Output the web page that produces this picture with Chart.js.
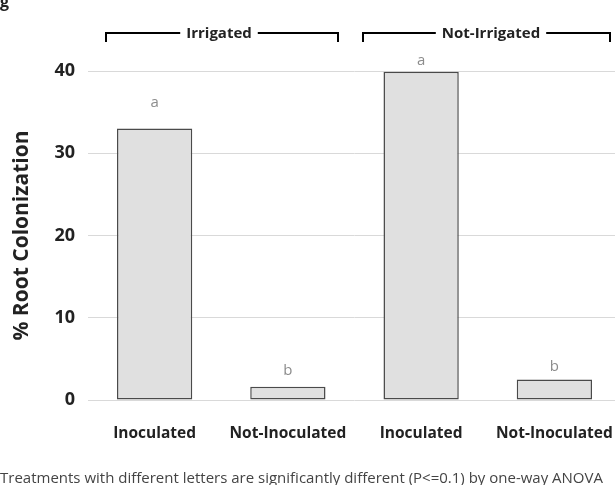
<!DOCTYPE html>
<html>
<head>
<meta charset="utf-8">
<script src="https://cdn.jsdelivr.net/npm/chart.js@4/dist/chart.umd.min.js"></script>
<style>
  html, body { margin: 0; padding: 0; background: #fff; overflow: hidden; }
  #wrap { width: 615px; height: 485px; overflow: hidden; }
</style>
</head>
<body>
<div id="wrap"><canvas id="barChart" width="621" height="485"></canvas></div>
<script>
var categories = ['Inoculated', 'Not-Inoculated', 'Inoculated', 'Not-Inoculated'];
var colonization = [33, 1.6, 39.9, 2.5];
var letters = ['a', 'b', 'a', 'b'];
var groups = ['Irrigated', 'Not-Irrigated'];
var yTicks = [0, 10, 20, 30, 40];
var footnote = 'Treatments with different letters are significantly different (P<=0.1) by one-way ANOVA';

var fontName = '"Open Sans", sans-serif';

// letters above bars, brackets and footnote
var extras = {
    id: 'extras',
    afterDatasetsDraw: function (chart) {
        var ctx = chart.ctx;
        var meta = chart.getDatasetMeta(0);
        var offsets = [25, 15, 10, 12];

        ctx.save();
        ctx.fillStyle = '#8c8c8c';
        ctx.font = '15px ' + fontName;
        ctx.textAlign = 'center';
        ctx.textBaseline = 'middle';
        for (var i = 0; i < meta.data.length; i++) {
            var bar = meta.data[i];
            ctx.fillText(letters[i], bar.x, bar.y - offsets[i] - 1);
        }

        // group brackets
        ctx.strokeStyle = '#000';
        ctx.lineWidth = 2;
        ctx.fillStyle = '#222';
        ctx.font = 'bold 15px ' + fontName;
        ctx.textBaseline = 'alphabetic';
        var brackets = [
            { left: 106, right: 338, text: groups[0], cx: 219 },
            { left: 363, right: 610, text: groups[1], cx: 491 }
        ];
        var by = 33;
        brackets.forEach(function (b) {
            var w = ctx.measureText(b.text).width;
            ctx.beginPath();
            ctx.moveTo(b.left, by + 9);
            ctx.lineTo(b.left, by);
            ctx.lineTo(b.cx - w / 2 - 6, by);
            ctx.moveTo(b.cx + w / 2 + 6, by);
            ctx.lineTo(b.right, by);
            ctx.lineTo(b.right, by + 9);
            ctx.stroke();
            ctx.fillText(b.text, b.cx, 38);
        });

        // cut-off title glyph at top left
        ctx.textAlign = 'left';
        ctx.font = 'bold 16px ' + fontName;
        ctx.fillText('g', 0, 7);

        // footnote
        ctx.fillStyle = '#444';
        ctx.font = '15px ' + fontName;
        ctx.fillText(footnote, 0, 483);
        ctx.restore();
    }
};

var ctx = document.getElementById('barChart').getContext('2d');
var myChart = new Chart(ctx, {
    type: 'bar',
    data: {
        labels: categories,
        datasets: [{
            label: '% Root Colonization',
            data: colonization,
            backgroundColor: '#e0e0e0',
            borderColor: '#4a4a4a',
            borderWidth: 1.5,
            borderSkipped: false,
            barPercentage: 0.565,
            categoryPercentage: 1
        }]
    },
    options: {
        responsive: false,
        animation: false,
        layout: { padding: { top: 71, right: 0, left: 0, bottom: 0 } },
        plugins: {
            legend: { display: false },
            tooltip: { enabled: false }
        },
        scales: {
            x: {
                grid: { display: false },
                border: { display: false },
                ticks: {
                    color: '#222',
                    font: { family: fontName, size: 15.5, weight: 'bold' },
                    padding: 16,
                    maxRotation: 0
                },
                afterFit: function (scale) {
                    scale.height = 85;
                    scale.paddingLeft = 0;
                    scale.paddingRight = 0;
                }
            },
            y: {
                min: 0,
                max: 40,
                afterBuildTicks: function (scale) {
                    scale.ticks = yTicks.map(function (v) { return { value: v }; });
                },
                grid: { color: '#d9d9d9', lineWidth: 1, drawTicks: false },
                border: { display: false },
                ticks: {
                    color: '#222',
                    font: { family: fontName, size: 18, weight: 'bold' },
                    padding: 13
                },
                title: {
                    display: true,
                    text: '% Root Colonization',
                    color: '#222',
                    font: { family: fontName, size: 21, weight: 'bold' },
                    padding: { top: 9, bottom: 10 }
                },
                afterFit: function (scale) {
                    scale.width = 88;
                    scale.paddingTop = 0;
                    scale.paddingBottom = 0;
                }
            }
        }
    },
    plugins: [extras]
});
</script>
</body>
</html>
